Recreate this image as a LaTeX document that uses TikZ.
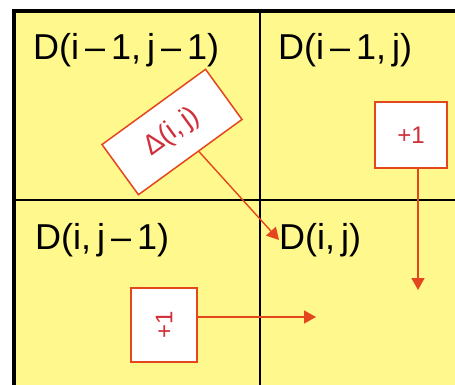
\documentclass[tikz,border=0pt]{standalone}
\usepackage{fontspec}
\setmainfont{Liberation Sans}
\usepackage{xcolor}
\usetikzlibrary{arrows.meta,positioning}
\definecolor{cellyel}{HTML}{FFF88C}
\definecolor{linkred}{HTML}{E4461E}
\definecolor{boxtxt}{HTML}{D0303A}
\begin{document}
\begin{tikzpicture}[x=1pt, y=-1pt, >={Triangle[length=12pt,width=13pt]},
  lbl/.style={font=\fontsize{36}{38}\selectfont, inner sep=0pt, anchor=west},
  opbox/.style={draw=linkred, line width=1.5pt, fill=white, text=boxtxt,
    font=\fontsize{24}{26}\selectfont, inner sep=2pt},
  link/.style={->, draw=linkred, line width=1.4pt}]
\useasboundingbox (0,0) rectangle (455,385);
% grid
\fill[cellyel] (14,11) rectangle (455,385);
\draw[line width=2pt] (260,11) -- (260,385);
\draw[line width=2pt] (14,200) -- (455,200);
\draw[line width=4.5pt] (14,385) -- (14,11) -- (455,11);
% cell labels
\node[lbl] (dtl) at (33,50) {D(i\,–\,1,\,j\,–\,1)};
\node[lbl] (dtr) at (278,50) {D(i\,–\,1,\,j)};
\node[lbl] (dbl) at (35,240) {D(i,\,j\,–\,1)};
\node[lbl] (dbr) at (279,240) {D(i,\,j)};
% operation boxes
\node[opbox, rotate=36, minimum width=128pt, minimum height=62pt,
  font=\fontsize{28}{30}\selectfont] (delta) at (172,132) {Δ(i,\,j)};
\node[opbox, minimum width=72pt, minimum height=66pt] (up) at (411,135) {+1};
\node[opbox, rotate=90, minimum width=74pt, minimum height=66pt] (left) at (164,325) {+1};
\coordinate (upend) at (418,290);
\coordinate (leftend) at (316,317);
% arrows
\draw[link] (delta.-72) -- (dbr.west);
\draw[link] (up.south -| upend) -- (upend);
\draw[link] (left.south |- leftend) -- (leftend);
\end{tikzpicture}
\end{document}
